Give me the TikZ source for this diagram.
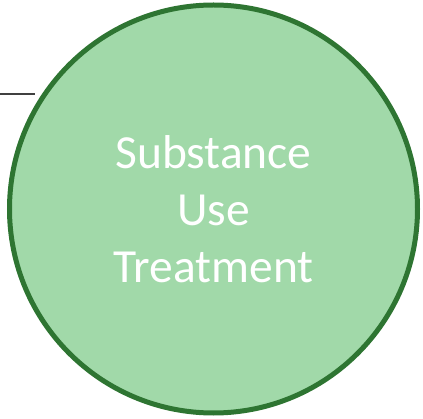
\documentclass[tikz,border=0pt]{standalone}
\usepackage{fontspec}
\setmainfont{Carlito}
\definecolor{discfill}{RGB}{161,217,169}
\definecolor{discedge}{RGB}{46,117,50}
\definecolor{linkgray}{RGB}{64,64,64}
\tikzset{
  disc/.style={circle, draw=discedge, fill=discfill, line width=5pt,
    minimum size=408pt, inner sep=0pt, text=white, align=center,
    font=\fontsize{47.5}{57}\selectfont},
  link/.style={draw=linkgray, line width=2.6pt}
}
\begin{document}
\begin{tikzpicture}[x=1pt,y=1pt]
  \useasboundingbox (0,0) rectangle (423,418);
  \coordinate (lstart) at (0,324);
  \coordinate (lend) at (35,324);
  \draw[link] (lstart) -- (lend);
  \node[disc] (sut) at (213.5,209) {Substance\\Use\\Treatment};
\end{tikzpicture}
\end{document}
